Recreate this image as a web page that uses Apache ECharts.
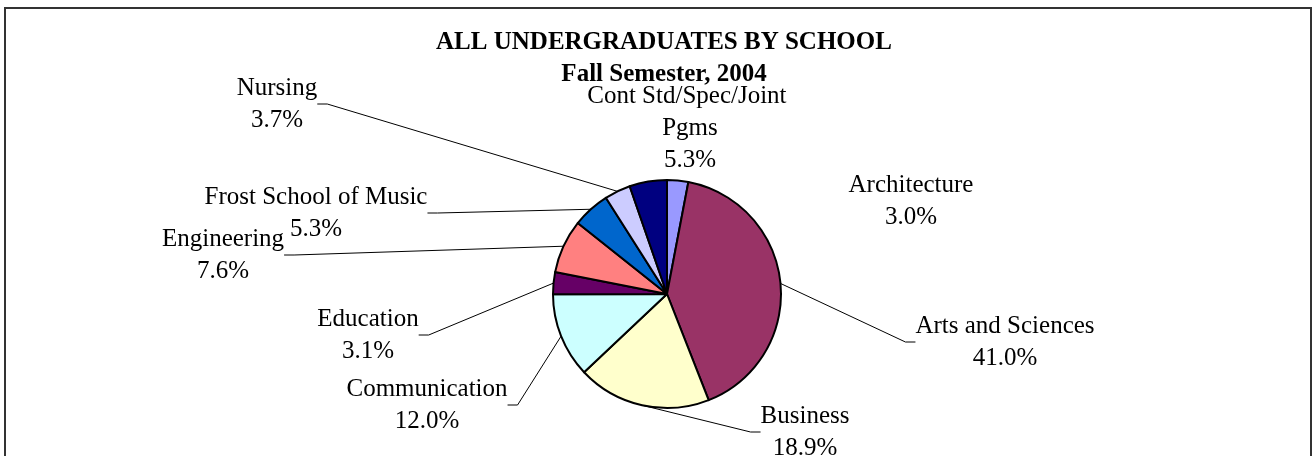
<!DOCTYPE html>
<html>
<head>
<meta charset="utf-8">
<script src="https://cdn.jsdelivr.net/npm/echarts@6/dist/echarts.min.js"></script>
<style>
  html, body { margin: 0; padding: 0; background: #fff; }
  #pie { width: 1313px; height: 456px; }
</style>
</head>
<body>
<div id="pie"></div>
<script>
  // data (percent of all undergraduates)
  var schools = ['Architecture', 'Arts and Sciences', 'Business', 'Communication', 'Education',
    'Engineering', 'Frost School of Music', 'Nursing', 'Cont Std/Spec/Joint Pgms'];
  var shares = [3.0, 41.0, 18.9, 12.0, 3.1, 7.6, 5.3, 3.7, 5.3];
  var colors = ['#9999FF', '#993366', '#FFFFCC', '#CCFFFF', '#660066', '#FF8080', '#0066CC', '#CCCCFF', '#000080'];

  // where each label block sits (centre), as in the original chart
  var labelPos = [[911, 201], [1005, 342], [805, 432], [427, 405], [368, 335],
    [223, 255], [316, 213], [277, 104], [690, 128]];
  var noLine = [0, 8];

  var font = "'Liberation Serif', 'Times New Roman', serif";
  var myChart = echarts.init(document.getElementById('pie'));

  var seriesData = schools.map(function (name, i) {
    var item = { name: name, value: shares[i], itemStyle: { color: colors[i] } };
    if (noLine.indexOf(i) >= 0) item.labelLine = { show: false };
    if (i === 8) item.label = { width: 215, overflow: 'break' };
    return item;
  });

  var option = {
    animation: false,
    title: {
      text: 'ALL UNDERGRADUATES BY SCHOOL',
      subtext: 'Fall Semester, 2004',
      left: 664,
      top: 27,
      textAlign: 'center',
      itemGap: 0,
      padding: 0,
      textStyle: { fontFamily: font, fontWeight: 'bold', fontSize: 25, lineHeight: 32, color: '#000' },
      subtextStyle: { fontFamily: font, fontWeight: 'bold', fontSize: 25, lineHeight: 32, color: '#000' }
    },
    graphic: [{
      type: 'rect',
      shape: { x: 5, y: 8, width: 1306, height: 470 },
      style: { fill: 'none', stroke: '#333', lineWidth: 2 },
      silent: true
    }],
    series: [{
      type: 'pie',
      center: [667, 294],
      radius: [0, 114],
      startAngle: 90,
      clockwise: true,
      avoidLabelOverlap: false,
      itemStyle: { borderColor: '#000', borderWidth: 2 },
      label: {
        show: true,
        position: 'outer',
        fontFamily: font,
        fontSize: 25,
        lineHeight: 32,
        color: '#000',
        align: 'center',
        formatter: function (p) {
          return p.name + '\n' + p.value.toFixed(1) + '%';
        }
      },
      labelLine: { show: true, length: 10, length2: 10, lineStyle: { color: '#000', width: 1 } },
      labelLayout: function (params) {
        var pos = labelPos[params.dataIndex];
        return { x: pos[0], y: pos[1], align: 'center', verticalAlign: 'middle' };
      },
      emphasis: { disabled: true },
      data: seriesData
    }]
  };

  myChart.setOption(option);
</script>
</body>
</html>
